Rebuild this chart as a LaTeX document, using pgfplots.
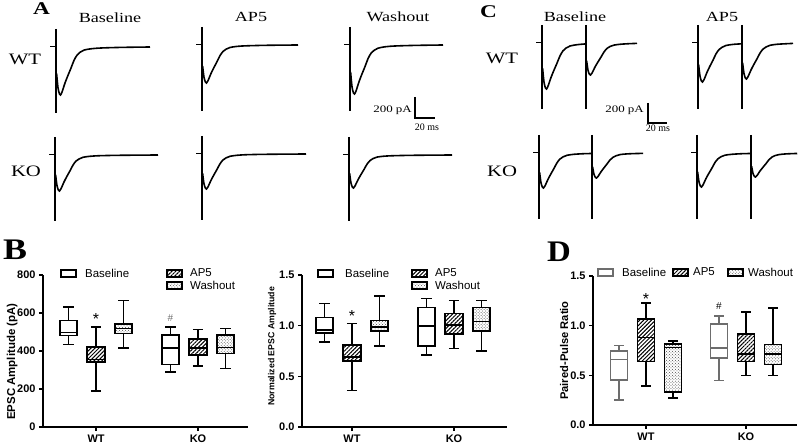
\documentclass[border=0pt]{standalone}
\usepackage{fontspec}
\setmainfont{Liberation Serif}
\setsansfont{Liberation Sans}
\usepackage{graphicx}
\usepackage{pgfplots}
\pgfplotsset{compat=1.18}
\usetikzlibrary{patterns,patterns.meta}
\definecolor{dgray}{HTML}{6D6D6D}

% serif text, stretched like the original panel text
\newcommand{\ser}[2]{{\fontsize{#1}{#1}\selectfont\scalebox{1.3}[1]{#2}}}
\newcommand{\leg}{\sffamily\fontsize{11.5}{11.5}\selectfont}

\tikzset{
  hatch/.style={pattern={Lines[angle=45, distance=2.8pt, line width=1pt]}, pattern color=black},
  dotty/.style={pattern=crosshatch dots, pattern color=black!70},
}

% one box: position, lower whisker, q1, median, q3, upper whisker, colour, fill
\newcommand{\bxp}[8]{%
  \pgfmathsetmacro\bL{#1-0.085}\pgfmathsetmacro\bR{#1+0.085}%
  \pgfmathsetmacro\cL{#1-0.05}\pgfmathsetmacro\cR{#1+0.05}%
  \edef\tmp{%
    \noexpand\addplot[draw=#7, line width=1.8pt, #8] coordinates {(\bL,#3)(\bR,#3)(\bR,#5)(\bL,#5)} -- cycle;
    \noexpand\addplot[draw=#7, line width=1.6pt] coordinates {(#1,#5)(#1,#6)};
    \noexpand\addplot[draw=#7, line width=1.6pt] coordinates {(\cL,#6)(\cR,#6)};
    \noexpand\addplot[draw=#7, line width=1.6pt] coordinates {(#1,#3)(#1,#2)};
    \noexpand\addplot[draw=#7, line width=1.6pt] coordinates {(\cL,#2)(\cR,#2)};
    \noexpand\addplot[draw=#7, line width=1.7pt] coordinates {(\bL,#4)(\bR,#4)};
  }\tmp}

\pgfplotsset{
  trace/.style={hide axis, anchor=south west, x=1bp, y=0.1bp,
    xmin=-10, xmax=110, ymin=-700, ymax=200, clip=false},
  pre/.style={black, line width=1bp, no marks},
  art/.style={black, line width=2.8bp, no marks},
  tr/.style={black, line width=1.6bp, no marks, smooth, tension=0.55},
  bx/.style={scale only axis, anchor=south west, axis lines=left,
    axis line style={-, line width=1.3pt}, tick style={black, line width=1.3pt},
    tick align=outside, major tick length=4bp,
    xtick={1,2}, xticklabels={WT,KO},
    ticklabel style={font=\sffamily\bfseries\fontsize{11}{11}\selectfont},
    /pgf/number format/assume math mode=true,
    every axis plot/.append style={no marks},
    clip=false, width=205bp, height=152bp},
  dec/.style={yticklabel style={/pgf/number format/.cd, fixed, fixed zerofill, precision=1}},
}

\begin{document}
\begin{tikzpicture}
\useasboundingbox (0,0) rectangle (800bp,447bp);

% ---------------- panel A ----------------
\begin{axis}[trace, at={(46bp,330bp)}]
\addplot[pre] coordinates {(-6,0)(0,0)};
\addplot[art] coordinates {(0,180)(0,-660)};
\addplot[tr] coordinates {(0.6,-264)(2,-408)(3.5,-470)(4.5,-480)(6,-451)(9,-360)(12,-283)(15,-211)(18,-134)(21,-82)(24,-53)(28,-31)(35,-18)(45,-10)(65,-4)(94,0)};
\end{axis}
\begin{axis}[trace, at={(192bp,332bp)}]
\addplot[pre] coordinates {(-6,0)(0,0)};
\addplot[art] coordinates {(0,180)(0,-660)};
\addplot[tr] coordinates {(0.6,-209)(2,-323)(3.5,-372)(4.5,-380)(6,-357)(9,-285)(12,-224)(15,-167)(18,-106)(21,-65)(24,-42)(28,-25)(35,-14)(45,-8)(65,-3)(96,0)};
\end{axis}
\begin{axis}[trace, at={(340bp,332bp)}]
\addplot[pre] coordinates {(-6,0)(0,0)};
\addplot[art] coordinates {(0,180)(0,-660)};
\addplot[tr] coordinates {(0.6,-270)(2,-417)(3.5,-480)(4.5,-490)(6,-461)(9,-368)(12,-289)(15,-216)(18,-137)(21,-83)(24,-54)(28,-32)(35,-18)(45,-10)(65,-4)(93,0)};
\end{axis}
\begin{axis}[trace, at={(45bp,222bp)}]
\addplot[pre] coordinates {(-6,0)(0,0)};
\addplot[art] coordinates {(0,180)(0,-660)};
\addplot[tr] coordinates {(0.6,-198)(2,-306)(3.5,-353)(4.5,-360)(6,-338)(9,-270)(12,-212)(15,-158)(18,-101)(21,-61)(24,-40)(28,-23)(35,-13)(45,-7)(65,-3)(103,0)};
\end{axis}
\begin{axis}[trace, at={(192bp,223bp)}]
\addplot[pre] coordinates {(-6,0)(0,0)};
\addplot[art] coordinates {(0,180)(0,-660)};
\addplot[tr] coordinates {(0.6,-193)(2,-298)(3.5,-343)(4.5,-350)(6,-329)(9,-263)(12,-207)(15,-154)(18,-98)(21,-60)(24,-39)(28,-23)(35,-13)(45,-7)(65,-3)(104,0)};
\end{axis}
\begin{axis}[trace, at={(339bp,222bp)}]
\addplot[pre] coordinates {(-6,0)(0,0)};
\addplot[art] coordinates {(0,180)(0,-660)};
\addplot[tr] coordinates {(0.6,-182)(2,-281)(3.5,-323)(4.5,-330)(6,-310)(9,-248)(12,-195)(15,-145)(18,-92)(21,-56)(24,-36)(28,-21)(35,-12)(45,-7)(65,-3)(103,0)};
\end{axis}

% ---------------- panel C (paired pulses) ----------------
\begin{axis}[trace, at={(532bp,334bp)}]
\addplot[pre] coordinates {(-6,0)(0,0)};
\addplot[art] coordinates {(0,180)(0,-660)};
\addplot[art] coordinates {(44,180)(44,-660)};
\addplot[tr] coordinates {(0.6,-253)(2,-391)(3.5,-451)(4.5,-460)(6,-432)(9,-345)(12,-271)(15,-202)(18,-129)(21,-78)(24,-51)(28,-30)(35,-17)(44,-9)};
\addplot[tr] coordinates {(44.6,-176)(46,-272)(47.5,-314)(48.5,-320)(50,-301)(53,-240)(56,-189)(59,-141)(62,-90)(65,-54)(68,-35)(72,-21)(79,-12)(89,-6)(95,-4)};
\end{axis}
\begin{axis}[trace, at={(688bp,334bp)}]
\addplot[pre] coordinates {(-6,0)(0,0)};
\addplot[art] coordinates {(0,180)(0,-660)};
\addplot[art] coordinates {(44,180)(44,-660)};
\addplot[tr] coordinates {(0.6,-215)(2,-332)(3.5,-382)(4.5,-390)(6,-367)(9,-293)(12,-230)(15,-172)(18,-109)(21,-66)(24,-43)(28,-25)(35,-14)(44,-8)};
\addplot[tr] coordinates {(44.6,-198)(46,-306)(47.5,-353)(48.5,-360)(50,-338)(53,-270)(56,-212)(59,-158)(62,-101)(65,-61)(68,-40)(72,-23)(79,-13)(89,-7)(95,-4)};
\end{axis}
\begin{axis}[trace, at={(529bp,224bp)}]
\addplot[pre] coordinates {(-6,0)(0,0)};
\addplot[art] coordinates {(0,180)(0,-660)};
\addplot[art] coordinates {(53,180)(53,-660)};
\addplot[tr] coordinates {(0.6,-193)(2,-298)(3.5,-343)(4.5,-350)(6,-329)(9,-263)(12,-207)(15,-154)(18,-98)(21,-60)(24,-39)(28,-23)(35,-13)(45,-7)(53,-5)};
\addplot[tr] coordinates {(53.6,-138)(55,-213)(56.5,-245)(57.5,-250)(59,-235)(62,-188)(65,-148)(68,-110)(71,-70)(74,-43)(77,-28)(81,-16)(88,-9)(98,-5)(104,-4)};
\end{axis}
\begin{axis}[trace, at={(687bp,224bp)}]
\addplot[pre] coordinates {(-6,0)(0,0)};
\addplot[art] coordinates {(0,180)(0,-660)};
\addplot[art] coordinates {(54,180)(54,-660)};
\addplot[tr] coordinates {(0.6,-187)(2,-289)(3.5,-333)(4.5,-340)(6,-320)(9,-255)(12,-201)(15,-150)(18,-95)(21,-58)(24,-37)(28,-22)(35,-13)(45,-7)(54,-5)};
\addplot[tr] coordinates {(54.6,-132)(56,-204)(57.5,-235)(58.5,-240)(60,-226)(63,-180)(66,-142)(69,-106)(72,-67)(75,-41)(78,-26)(82,-16)(89,-9)(99,-5)(100,-5)};
\end{axis}

% panel texts
\node[anchor=base west, inner sep=0] at (33bp,432bp) {\fontsize{18}{18}\selectfont\bfseries\scalebox{1.3}[1]{A}};
\node[anchor=base west, inner sep=0] at (480bp,429bp) {\fontsize{18}{18}\selectfont\bfseries\scalebox{1.3}[1]{C}};
\node at (110bp,429bp) {\ser{14}{Baseline}};
\node at (251bp,430bp) {\ser{14}{AP5}};
\node at (398bp,430bp) {\ser{14}{Washout}};
\node at (575bp,430bp) {\ser{14}{Baseline}};
\node at (722bp,430bp) {\ser{14}{AP5}};
\node at (25bp,388bp) {\ser{16}{WT}};
\node at (26bp,276bp) {\ser{16}{KO}};
\node at (502bp,389bp) {\ser{16}{WT}};
\node at (502bp,276bp) {\ser{16}{KO}};

% scale bars
\draw[line width=1.5bp] (415bp,350bp) -- (415bp,329bp) -- (435bp,329bp);
\node[anchor=east, inner sep=1bp] at (413bp,337bp) {\ser{10}{200 pA}};
\node at (427bp,320bp) {\fontsize{10}{10}\selectfont 20 ms};
\draw[line width=1.5bp] (648bp,344bp) -- (648bp,324bp) -- (667bp,324bp);
\node[anchor=east, inner sep=1bp] at (645bp,337bp) {\ser{10}{200 pA}};
\node at (658bp,319bp) {\fontsize{10}{10}\selectfont 20 ms};

\node[anchor=base west, inner sep=0] at (3bp,187bp) {\fontsize{30}{30}\selectfont\bfseries\scalebox{1.2}[1]{B}};
\node[anchor=base west, inner sep=0] at (547bp,185bp) {\fontsize{30}{30}\selectfont\bfseries\scalebox{1.1}[1]{D}};

% ---------------- panel B, absolute ----------------
\begin{axis}[bx, at={(43bp,20bp)}, xmin=0.48, xmax=2.49, ymin=0, ymax=800,
  ytick={0,200,400,600,800},
  ylabel={EPSC Amplitude (pA)},
  ylabel style={at={(axis description cs:-0.151,0.43)}, anchor=center,
    font=\sffamily\bfseries\fontsize{11.5}{11.5}\selectfont}]
\bxp{0.73}{435}{482}{497}{560}{632}{black}{fill=white}
\bxp{1.00}{188}{342}{356}{420}{527}{black}{hatch}
\bxp{1.27}{417}{492}{518}{544}{666}{black}{dotty}
\bxp{1.73}{291}{329}{417}{486}{526}{black}{fill=white}
\bxp{2.00}{321}{380}{417}{464}{514}{black}{hatch}
\bxp{2.27}{308}{387}{418}{483}{518}{black}{dotty}
\node[font=\sffamily\fontsize{16}{16}\selectfont] at (axis cs:1.0,570) {*};
\node[font=\sffamily\fontsize{10}{10}\selectfont, text=dgray] at (axis cs:1.73,574) {\#};
\end{axis}

% ---------------- panel B, normalized ----------------
\begin{axis}[bx, dec, at={(302bp,20bp)}, xmin=0.51, xmax=2.52, ymin=0, ymax=1.5,
  ytick={0,0.5,1,1.5},
  ylabel={Normalized EPSC Amplitude},
  ylabel style={at={(axis description cs:-0.146,0.53)}, anchor=center,
    font=\sffamily\bfseries\fontsize{8.8}{8.8}\selectfont}]
\bxp{0.73}{0.84}{0.93}{0.955}{1.08}{1.22}{black}{fill=white}
\bxp{1.00}{0.36}{0.655}{0.69}{0.81}{1.02}{black}{hatch}
\bxp{1.27}{0.80}{0.95}{0.99}{1.05}{1.29}{black}{dotty}
\bxp{1.73}{0.71}{0.80}{1.00}{1.18}{1.27}{black}{fill=white}
\bxp{2.00}{0.775}{0.92}{1.01}{1.12}{1.25}{black}{hatch}
\bxp{2.27}{0.75}{0.945}{1.04}{1.18}{1.25}{black}{dotty}
\node[font=\sffamily\fontsize{16}{16}\selectfont] at (axis cs:1.0,1.10) {*};
\end{axis}

% ---------------- panel D ----------------
\begin{axis}[bx, dec, at={(593bp,22bp)}, width=204bp, height=149bp,
  xmin=0.47, xmax=2.51, ymin=0, ymax=1.5,
  ytick={0,0.5,1,1.5},
  ylabel={Paired-Pulse Ratio},
  ylabel style={at={(axis description cs:-0.142,0.5)}, anchor=center,
    font=\sffamily\bfseries\fontsize{11.2}{11.2}\selectfont}]
\bxp{0.73}{0.25}{0.45}{0.66}{0.745}{0.80}{dgray}{fill=white}
\bxp{1.00}{0.39}{0.64}{0.88}{1.07}{1.23}{black}{hatch}
\bxp{1.27}{0.27}{0.33}{0.78}{0.815}{0.845}{black}{dotty}
\bxp{1.73}{0.45}{0.675}{0.775}{1.015}{1.10}{dgray}{fill=white}
\bxp{2.00}{0.50}{0.64}{0.715}{0.915}{1.135}{black}{hatch}
\bxp{2.27}{0.50}{0.61}{0.715}{0.81}{1.18}{black}{dotty}
\node[font=\sffamily\fontsize{16}{16}\selectfont] at (axis cs:1.0,1.27) {*};
\node[font=\sffamily\fontsize{10}{10}\selectfont] at (axis cs:1.73,1.20) {\#};
\end{axis}

% legends
\draw[line width=1.6pt] (61bp,170bp) rectangle (76bp,177bp);
\node[anchor=west, inner sep=0] at (85bp,174bp) {\leg Baseline};
\draw[line width=1.6pt, hatch] (167bp,170bp) rectangle (182bp,177bp);
\node[anchor=west, inner sep=0] at (190bp,174bp) {\leg AP5};
\draw[line width=1.6pt, dotty] (167bp,158bp) rectangle (182bp,165bp);
\node[anchor=west, inner sep=0] at (190bp,162bp) {\leg Washout};

\draw[line width=1.6pt] (318bp,170bp) rectangle (333bp,177bp);
\node[anchor=west, inner sep=0] at (345bp,174bp) {\leg Baseline};
\draw[line width=1.6pt, hatch] (412bp,170bp) rectangle (427bp,177bp);
\node[anchor=west, inner sep=0] at (435bp,174bp) {\leg AP5};
\draw[line width=1.6pt, dotty] (412bp,158bp) rectangle (427bp,165bp);
\node[anchor=west, inner sep=0] at (435bp,162bp) {\leg Washout};

\draw[line width=1.6pt, draw=dgray] (598bp,171bp) rectangle (613bp,178bp);
\node[anchor=west, inner sep=0] at (622bp,175bp) {\leg Baseline};
\draw[line width=1.6pt, hatch] (673bp,171bp) rectangle (688bp,178bp);
\node[anchor=west, inner sep=0] at (693bp,175bp) {\leg AP5};
\draw[line width=1.6pt, dotty] (728bp,171bp) rectangle (743bp,178bp);
\node[anchor=west, inner sep=0] at (748bp,175bp) {\leg Washout};
\end{tikzpicture}
\end{document}
